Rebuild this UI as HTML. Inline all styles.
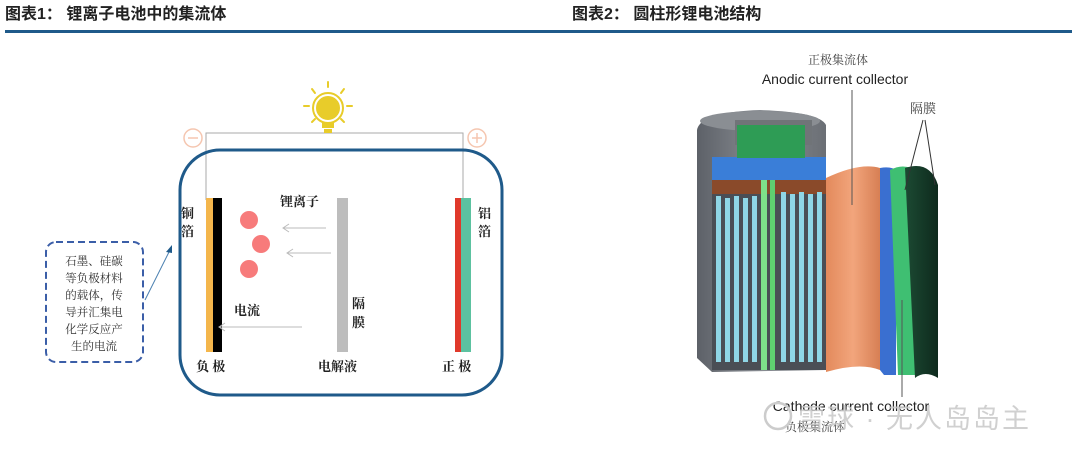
<!DOCTYPE html>
<html><head><meta charset="utf-8"><style>
html,body{margin:0;padding:0;background:#fff;}
body{width:1080px;height:449px;overflow:hidden;}
text{font-family:"Liberation Serif","Noto Serif CJK SC",serif;}
.s{font-family:"Liberation Sans","Noto Sans CJK SC",sans-serif;}
</style></head><body>
<svg width="1080" height="449" viewBox="0 0 1080 449" xmlns="http://www.w3.org/2000/svg">
<text x="5" y="19" font-size="16" font-weight="bold" class="s" fill="#222">图表1：  锂离子电池中的集流体</text>
<text x="572" y="19" font-size="16" font-weight="bold" class="s" fill="#222">图表2：  圆柱形锂电池结构</text>
<rect x="5" y="30" width="1067" height="3" fill="#1f5a8a"/>

<polyline points="206,200 206,133 463,133 463,200" fill="none" stroke="#aaa" stroke-width="1"/>
<rect x="180" y="150" width="322" height="245" rx="40" fill="none" stroke="#1f5a8a" stroke-width="3"/>
<g stroke="#e8cc2a" stroke-width="2" stroke-linecap="round">
<line x1="328" y1="82" x2="328" y2="87"/><line x1="312" y1="89" x2="315" y2="93"/><line x1="344" y1="89" x2="341" y2="93"/>
<line x1="304" y1="106" x2="309" y2="106"/><line x1="347" y1="106" x2="352" y2="106"/>
<line x1="312" y1="122" x2="315" y2="119"/><line x1="344" y1="122" x2="341" y2="119"/>
</g>
<circle cx="328" cy="108" r="13" fill="#e8cc2a" stroke="#fff" stroke-width="2"/>
<circle cx="328" cy="108" r="15" fill="none" stroke="#e8cc2a" stroke-width="2"/>
<rect x="322" y="122" width="12" height="6" fill="#e8cc2a"/>
<rect x="324" y="129" width="8" height="4" fill="#e8cc2a"/>
<circle cx="193" cy="138" r="9" fill="none" stroke="#f5c6b0" stroke-width="1.5"/>
<line x1="188" y1="138" x2="198" y2="138" stroke="#f5c6b0" stroke-width="1.5"/>
<circle cx="477" cy="138" r="9" fill="none" stroke="#f5c6b0" stroke-width="1.5"/>
<line x1="472" y1="138" x2="482" y2="138" stroke="#f5c6b0" stroke-width="1.5"/>
<line x1="477" y1="133" x2="477" y2="143" stroke="#f5c6b0" stroke-width="1.5"/>
<rect x="206" y="198" width="7" height="154" fill="#f4b64c"/>
<rect x="213" y="198" width="9" height="154" fill="#000"/>
<rect x="337" y="198" width="11" height="154" fill="#bdbdbd"/>
<rect x="455" y="198" width="6" height="154" fill="#e0392b"/>
<rect x="461" y="198" width="10" height="154" fill="#5cc2a0"/>
<circle cx="249" cy="220" r="9" fill="#f77b7b"/>
<circle cx="261" cy="244" r="9" fill="#f77b7b"/>
<circle cx="249" cy="269" r="9" fill="#f77b7b"/>
<g stroke="#bbb" stroke-width="1" fill="none">
<line x1="326" y1="228" x2="283" y2="228"/><polyline points="289,224 283,228 289,232"/>
<line x1="331" y1="253" x2="287" y2="253"/><polyline points="293,249 287,253 293,257"/>
<line x1="302" y1="327" x2="219" y2="327"/><polyline points="225,323 219,327 225,331"/>
</g>
<g font-size="13" fill="#222" font-weight="bold">
<text x="280" y="206">锂离子</text>
<text x="234" y="315">电流</text>
<text x="352" y="308">隔</text><text x="352" y="327">膜</text>
<text x="181" y="218">铜</text><text x="181" y="236">箔</text>
<text x="478" y="218">铝</text><text x="478" y="236">箔</text>
<text x="196" y="371">负 极</text>
<text x="318" y="371">电解液</text>
<text x="442" y="371">正 极</text>
</g>
<rect x="46" y="242" width="97" height="120" rx="10" fill="none" stroke="#3b5ea8" stroke-width="2" stroke-dasharray="7,4"/>
<g font-size="11.5" fill="#333" text-anchor="middle">
<text x="94" y="265">石墨、硅碳</text>
<text x="94" y="282">等负极材料</text>
<text x="94" y="299">的载体，传</text>
<text x="94" y="316">导并汇集电</text>
<text x="94" y="333">化学反应产</text>
<text x="94" y="350">生的电流</text>
</g>
<line x1="145" y1="300" x2="170" y2="250" stroke="#4a7fb0" stroke-width="1"/>
<polygon points="172,245 166,252 172,253" fill="#1f5a8a"/>

<defs>
<linearGradient id="body" x1="0" x2="1"><stop offset="0" stop-color="#5d6168"/><stop offset="0.5" stop-color="#888c92"/><stop offset="1" stop-color="#6b6f75"/></linearGradient>
<linearGradient id="org" x1="0" x2="1"><stop offset="0" stop-color="#e38a5c"/><stop offset="0.5" stop-color="#f2a57c"/><stop offset="1" stop-color="#d77f54"/></linearGradient>
<linearGradient id="dg" x1="0" x2="1"><stop offset="0" stop-color="#1c4a33"/><stop offset="1" stop-color="#0e2a1d"/></linearGradient>
</defs>
<path d="M697,130 Q700,112 760,110 Q820,112 826,125 L826,370 L712,372 L697,358 Z" fill="url(#body)"/>
<ellipse cx="760" cy="121" rx="60" ry="10" fill="#8a8e93"/>
<path d="M735,120 L812,120 L812,145 L735,145 Z" fill="#707478"/>
<rect x="712" y="157" width="114" height="28" fill="#3a7ed8"/>
<path d="M737,125 L805,125 L805,158 L737,158 Z" fill="#2e9c55"/>
<rect x="712" y="180" width="114" height="190" fill="#4a4e55"/>
<rect x="712" y="180" width="114" height="14" fill="#8a4a2a"/>
<g fill="#8fd6e6">
<rect x="716" y="196" width="5" height="166"/><rect x="725" y="198" width="5" height="164"/><rect x="734" y="196" width="5" height="166"/><rect x="743" y="198" width="5" height="164"/><rect x="752" y="196" width="5" height="166"/>
<rect x="781" y="192" width="5" height="170"/><rect x="790" y="194" width="5" height="168"/><rect x="799" y="192" width="5" height="170"/><rect x="808" y="194" width="5" height="168"/><rect x="817" y="192" width="5" height="170"/>
</g>
<rect x="761" y="180" width="6" height="190" fill="#7ee08a"/>
<rect x="770" y="180" width="5" height="190" fill="#5fd070"/>
<path d="M826,178 Q860,162 880,168 L880,370 Q860,362 826,372 Z" fill="url(#org)"/>
<path d="M880,168 Q890,166 896,170 L896,375 L884,375 L880,370 Z" fill="#3a6fd0"/>
<path d="M890,170 Q905,162 918,172 L918,375 L898,375 Z" fill="#3fbf72"/>
<path d="M905,168 Q930,160 938,185 L938,378 Q925,370 915,378 Z" fill="url(#dg)"/>
<text x="838" y="64" font-size="12" fill="#444" text-anchor="middle">正极集流体</text>
<text x="835" y="84" font-size="14" class="s" fill="#222" text-anchor="middle">Anodic current collector</text>
<line x1="852" y1="90" x2="852" y2="205" stroke="#555" stroke-width="1"/>
<text x="910" y="113" font-size="13" fill="#444">隔膜</text>
<line x1="923" y1="120" x2="905" y2="190" stroke="#333" stroke-width="1"/>
<line x1="925" y1="120" x2="935" y2="185" stroke="#333" stroke-width="1"/>
<line x1="902" y1="300" x2="902" y2="397" stroke="#555" stroke-width="1"/>
<text x="851" y="411" font-size="14" class="s" fill="#222" text-anchor="middle">Cathode current collector</text>
<text x="815" y="431" font-size="12" fill="#444" text-anchor="middle">负极集流体</text>
<circle cx="778" cy="416" r="13" fill="none" stroke="#ccc" stroke-width="2.5"/>
<text x="798" y="428" font-size="27" class="s" fill="#c8c8c8" opacity="0.85" letter-spacing="2">雪球 · 无人岛岛主</text>
</svg>
</body></html>
